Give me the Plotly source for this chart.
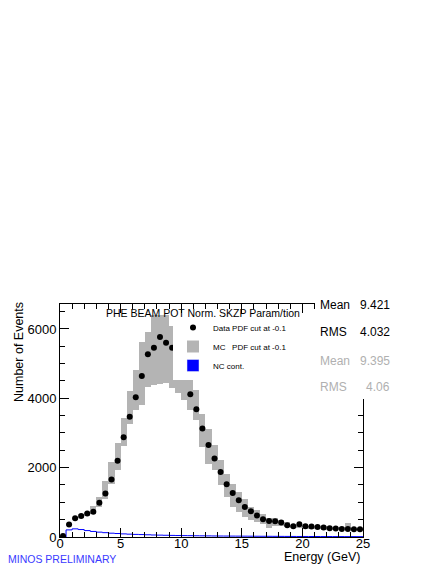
import plotly.graph_objects as go
import numpy as np

# 0.5 GeV bins from 0 to 25 GeV
bin_centres = np.arange(0.25, 25, 0.5)
bin_edges = np.arange(0, 25.5, 0.5)

data_events = [30, 358, 540, 606, 675, 725, 990, 1255, 1660, 2200,
               2880, 3470, 4030, 4640, 5270, 5460, 5770, 5600, 5455, 5100,
               4850, 4120, 3685, 3130, 2650, 2265, 1875, 1520, 1270, 1060,
               866, 745, 620, 511, 462, 453, 415, 338, 309, 367,
               309, 300, 289, 271, 250, 242, 233, 233, 220, 220]

# MC error band (low / high edge per bin)
mc_low = [0, 320, 500, 560, 620, 660, 870, 1108, 1541, 1945,
          2617, 3272, 3656, 3800, 4330, 4380, 4410, 4450, 4290, 4140,
          3950, 3656, 3368, 2597, 2118, 1925, 1492, 1154, 866, 722,
          577, 482, 430, 380, 271, 330, 330, 280, 250, 250,
          240, 230, 220, 210, 200, 200, 195, 220, 180, 180]
mc_high = [40, 400, 580, 650, 730, 900, 1160, 1616, 2165, 2713,
           3445, 4205, 4811, 5610, 5900, 6400, 6400, 6400, 6100, 5800,
           5300, 4716, 4234, 3561, 3128, 2646, 2214, 1830, 1541, 1299,
           1108, 866, 780, 650, 560, 540, 500, 420, 360, 360,
           340, 330, 320, 310, 300, 290, 285, 390, 270, 270]

nc_events = [0, 205, 235, 215, 185, 160, 140, 125, 110, 100,
             90, 82, 75, 70, 64, 58, 54, 50, 46, 42,
             40, 38, 36, 34, 32, 30, 28, 27, 26, 25,
             24, 23, 22, 21, 20, 19, 18, 17, 16, 15,
             15, 14, 14, 13, 13, 12, 12, 11, 11, 10]

stats = [("Mean", "9.421", "black"), ("RMS", "4.032", "black"),
         ("Mean", "9.395", "#b0b0b0"), ("RMS", "4.06", "#b0b0b0")]

# pixel helpers (plot frame 60..363 x 304..537)
L, R, T, B = 60, 363, 304, 537
def px(x):
    return (x - L) / (R - L)
def py(y):
    return (B - y) / (B - T)

mc_low = np.array(mc_low)
mc_high = np.array(mc_high)

fig = go.Figure()

fig.add_trace(go.Bar(
    x=bin_centres, y=mc_high - mc_low, base=mc_low, width=0.5,
    marker=dict(color='#b4b4b4', line=dict(width=0)),
    name='MC   PDF cut at -0.1', legendrank=2, hoverinfo='skip'
))

fig.add_trace(go.Scatter(
    x=bin_edges, y=nc_events + [nc_events[-1]], mode='lines',
    line=dict(color='blue', width=1, shape='hv'),
    showlegend=False, name='NC cont.'
))

fig.add_trace(go.Scatter(
    x=bin_centres, y=data_events, mode='markers',
    marker=dict(color='black', size=6),
    name='Data PDF cut at -0.1', legendrank=1
))

# legend-only entry for NC (filled box like the original)
fig.add_trace(go.Bar(x=[None], y=[None], marker_color='blue', name='NC cont.', legendrank=3))

fig.update_layout(
    width=436, height=564,
    margin=dict(l=L, r=436 - R, t=T, b=564 - B, autoexpand=False),
    paper_bgcolor='white', plot_bgcolor='white',
    font=dict(family='Liberation Sans, Arial, sans-serif', size=13, color='black'),
    bargap=0,
    legend=dict(x=px(173), y=py(313), xanchor='left', yanchor='top',
                bgcolor='white', borderwidth=0, font=dict(size=8)),
)

fig.update_xaxes(
    range=[0, 25], tick0=0, dtick=5, tickfont=dict(size=13), automargin=False,
    ticklabelstandoff=-6,
    showline=True, linecolor='black', linewidth=1, mirror='ticks',
    ticks='inside', ticklen=9, tickcolor='black',
    showgrid=False, zeroline=False,
    minor=dict(dtick=1, ticks='inside', ticklen=5, tickcolor='black', showgrid=False),
)
fig.update_yaxes(
    range=[0, 6720], tick0=0, dtick=2000, tickfont=dict(size=13), automargin=False,
    showline=True, linecolor='black', linewidth=1, mirror='ticks',
    ticks='inside', ticklen=9, tickcolor='black',
    showgrid=False, zeroline=False,
    minor=dict(dtick=500, ticks='inside', ticklen=5, tickcolor='black', showgrid=False),
)

# stat box covers the top-right corner of the frame
fig.add_shape(type='rect', xref='paper', yref='paper',
              x0=px(315), x1=px(436), y0=py(399), y1=py(295),
              fillcolor='white', line=dict(width=0), layer='above')

for i, (lab, val, col) in enumerate(stats):
    yy = [305, 332, 361, 387][i]
    fig.add_annotation(text=lab, xref='paper', yref='paper', x=px(318), y=py(yy),
                       xanchor='left', yanchor='middle', showarrow=False,
                       font=dict(size=12, color=col))
    fig.add_annotation(text=val, xref='paper', yref='paper', x=px(392), y=py(yy),
                       xanchor='right', yanchor='middle', showarrow=False,
                       font=dict(size=12, color=col))

fig.add_annotation(text='PHE BEAM POT Norm. SKZP Param/tion', xref='paper', yref='paper',
                   x=px(203), y=py(313), xanchor='center', yanchor='middle',
                   showarrow=False, font=dict(size=10.5))
fig.add_annotation(text='Number of Events', xref='paper', yref='paper',
                   x=px(19), y=py(352), xanchor='center', yanchor='middle',
                   textangle=-90, showarrow=False, font=dict(size=12.5))
fig.add_annotation(text='Energy (GeV)', xref='paper', yref='paper',
                   x=px(362), y=py(557), xanchor='right', yanchor='middle',
                   showarrow=False, font=dict(size=12.5))
fig.add_annotation(text='MINOS PRELIMINARY', xref='paper', yref='paper',
                   x=px(6), y=py(559), xanchor='left', yanchor='middle',
                   showarrow=False, font=dict(size=10.5, color='#3a3aff'))

fig.write_html("out.html", config={'displayModeBar': False},
               post_script="document.body.style.margin='0';")
